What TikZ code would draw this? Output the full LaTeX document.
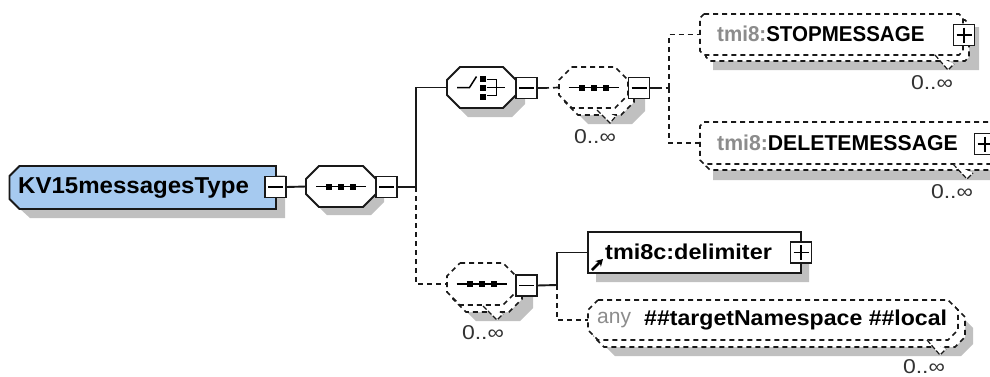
\documentclass[tikz,border=0pt]{standalone}
\usepackage{fontspec}
\usepackage{graphicx}
\setmainfont{Liberation Sans}
\usetikzlibrary{arrows.meta}
\definecolor{rootblue}{HTML}{A6CAF0}
\definecolor{shade}{HTML}{C0C0C0}
\definecolor{prefix}{HTML}{8C8C8C}
\tikzset{
  x=1pt,y=-1pt,
  solidline/.style={line width=1.9pt,draw=black!90},
  dashline/.style={line width=1.7pt,draw=black!90,dash pattern=on 5pt off 4pt},
  shadebox/.style={fill=shade,draw=none},
  front/.style={fill=white,solidline},
  frontd/.style={fill=white,dashline},
  backd/.style={fill=white,dashline},
  ctrl/.style={rectangle,draw=black!90,line width=1.8pt,fill=white,minimum width=21pt,minimum height=21pt,inner sep=0pt,outer sep=0pt},
  boldtext/.style={anchor=west,inner sep=0pt,font=\bfseries\fontsize{21.5}{23}\selectfont},
  occ/.style={inner sep=0pt,font=\fontsize{20}{22}\selectfont,text=black!80},
  tick/.style={line width=1.2pt,draw=black!90,dash pattern=on 5pt off 2pt,fill=white},
}
% name, x1,y1,x2,y2, style, chamfer
\newcommand{\shapebox}[7]{\node[rectangle,inner sep=0pt,outer sep=0pt,minimum width={(#4-#2)*1pt},minimum height={(#5-#3)*1pt}] (#1) at ({(#2+#4)/2},{(#3+#5)/2}) {};
  \path[#6] ([xshift=#7pt]#1.north west) -- ([xshift=-#7pt]#1.north east) -- ([yshift=-#7pt]#1.north east) -- ([yshift=#7pt]#1.south east) -- ([xshift=-#7pt]#1.south east) -- ([xshift=#7pt]#1.south west) -- ([yshift=#7pt]#1.south west) -- ([yshift=-#7pt]#1.north west) -- cycle;}
\newcommand{\minusbox}[3]{\node[ctrl] (#1) at (#2,#3) {};\draw[line width=1.4pt] ([xshift=3pt]#1.west) -- ([xshift=-3pt]#1.east);}
\newcommand{\plusbox}[3]{\node[ctrl] (#1) at (#2,#3) {};\draw[line width=1.4pt] ([xshift=3pt]#1.west) -- ([xshift=-3pt]#1.east) ([yshift=-3pt]#1.north) -- ([yshift=3pt]#1.south);}
\newcommand{\seqsym}[1]{\draw[line width=1.5pt] ([xshift=-25pt]#1.center) -- ([xshift=25pt]#1.center);
  \foreach \d in {-12,0,12} \fill ([xshift=\d pt]#1.center) ++(-3pt,-3pt) rectangle ++(6pt,6pt);}
\newcommand{\occlabel}{\scalebox{1.15}[1]{0..∞}}
\begin{document}
\begin{tikzpicture}
\useasboundingbox (0,0) rectangle (990,376);
\clip (0,0) rectangle (990,376);
\fill[white] (0,0) rectangle (990,376);

\coordinate (j1) at (416,187);
\coordinate (j2) at (669,88);
\coordinate (j3) at (557,285);

% root
\path[shadebox] (30,175) -- (285,175) -- (285,218) -- (30,218) -- (19,208) -- cycle;
\node[rectangle,inner sep=0pt,outer sep=0pt,minimum width=266.5pt,minimum height=43pt] (root) at (142.75,187.5) {};
\path[fill=rootblue,solidline] ([xshift=10pt]root.north west) -- (root.north east) -- (root.south east) -- ([xshift=10pt]root.south west) -- ([yshift=10pt]root.south west) -- ([yshift=-10pt]root.north west) -- cycle;
\node[boldtext,font=\bfseries\fontsize{23}{24}\selectfont] (rootT) at (18,188) {\scalebox{1.045}[1]{KV15messagesType}};
\minusbox{m1}{275.5}{187}

% top-level sequence
\shapebox{seqS}{314}{175}{384}{215}{shadebox}{13}
\shapebox{seq}{306}{166}{376}{207}{front}{13}
\seqsym{seq}
\minusbox{m2}{386.5}{187}
\draw[solidline] (m1.east) -- (seq.west);
\draw[solidline] (m2.east) -- (j1);

% choice
\shapebox{choS}{455}{76}{525}{117}{shadebox}{13}
\shapebox{cho}{447}{67}{516}{108}{front}{13}
\draw[line width=1.5pt] ([xshift=-24.5pt]cho.center) -- ([xshift=-12pt]cho.center) -- ([xshift=-5pt,yshift=11pt]cho.center);
\foreach \d in {-9,0,9} \fill ([xshift=1pt,yshift=\d pt]cho.center) ++(-3pt,-3pt) rectangle ++(6pt,6pt);
\draw[line width=1.5pt] ([xshift=5pt,yshift=8pt]cho.center) -- ([xshift=15pt,yshift=8pt]cho.center) -- ([xshift=15pt,yshift=-8pt]cho.center) -- ([xshift=5pt,yshift=-8pt]cho.center)
  ([xshift=5pt]cho.center) -- ([xshift=23pt]cho.center);
\minusbox{m3}{526.5}{88}
\draw[solidline] (j1) |- (cho.west);

% repeated sequence (upper)
\shapebox{sq2S}{575}{83}{645}{124}{shadebox}{13}
\shapebox{sq2B}{565}{74}{634}{115}{backd}{13}
\shapebox{sq2}{559}{67}{628}{108}{frontd}{13}
\seqsym{sq2}
\draw[tick] (597,110) -- (610,123) -- (616,116);
\minusbox{m4}{639}{88}
\node[occ] (o2) at (595,137) {\occlabel};
\draw[solidline] (m3.east) -- ++(7,0) coordinate (s3);
\draw[dashline] (s3) -- (sq2.west);
\draw[solidline] (m4.east) -- ++(7,0) coordinate (s4);
\draw[dashline] (s4) -- (j2);

% STOPMESSAGE
\shapebox{stS}{713}{27}{979}{70}{shadebox}{0}
\shapebox{stB}{706}{20}{969}{61}{backd}{4}
\shapebox{st}{700}{14}{963}{55}{frontd}{4}
\node[boldtext] (stT) at (717,34) {\scalebox{.955}[1]{\textcolor{prefix}{tmi8:}STOPMESSAGE}};
\plusbox{p1}{964}{35}
\draw[tick] (935,55) -- (948,70) -- (954,64);
\node[occ] (o3) at (932,83) {\occlabel};
\draw[dashline] (j2) |- (st.west);

% DELETEMESSAGE
\shapebox{deS}{713}{136}{1010}{180}{shadebox}{0}
\shapebox{deB}{706}{128}{1006}{170}{backd}{4}
\shapebox{de}{700}{122}{1000}{164}{frontd}{4}
\node[boldtext] (deT) at (717,143) {\scalebox{.987}[1]{\textcolor{prefix}{tmi8:}DELETEMESSAGE}};
\plusbox{p2}{985}{144}
\draw[tick] (953,164) -- (967,179) -- (973,173);
\node[occ] (o4) at (952,192) {\occlabel};
\draw[dashline] (j2) |- (de.west);

% repeated sequence (lower)
\shapebox{sq3S}{463}{280}{533}{321}{shadebox}{13}
\shapebox{sq3B}{453}{271}{522}{312}{backd}{13}
\shapebox{sq3}{447}{263}{516}{305}{frontd}{13}
\seqsym{sq3}
\draw[tick] (483,306) -- (497,320) -- (503,314);
\minusbox{m5}{526.5}{285.5}
\node[occ] (o5) at (483,333) {\occlabel};
\draw[dashline] (j1) |- (sq3.west);
\draw[solidline] (m5.east) -- (j3);

% delimiter
\shapebox{dlS}{596}{241}{809}{282}{shadebox}{0}
\node[rectangle,fill=white,solidline,inner sep=0pt,outer sep=0pt,minimum width=213pt,minimum height=41pt] (dl) at (694.5,252.5) {};
\node[boldtext] (dlT) at (605,252) {\scalebox{1.09}[1]{tmi8c:delimiter}};
\draw[line width=2.6pt,-{Stealth[length=7pt,width=8pt]}] (592,270) -- (603,259);
\plusbox{p3}{801}{252.5}
\draw[solidline] (j3) |- (dl.west);

% any
\shapebox{anS}{603}{316}{973}{356}{shadebox}{12}
\shapebox{anB}{594}{307}{965}{347}{backd}{10}
\shapebox{an}{588}{300}{958}{340}{frontd}{10}
\node[anchor=west,inner sep=0pt,font=\fontsize{21}{23}\selectfont,text=prefix] (anT1) at (597,320) {any};
\node[boldtext] (anT2) at (644,320) {\scalebox{1.074}[1]{\#\#targetNamespace \#\#local}};
\draw[tick] (927,340) -- (940,355) -- (946,349);
\node[occ] (o6) at (924,366.5) {\occlabel};
\draw[dashline] (j3) |- (an.west);
\end{tikzpicture}
\end{document}
